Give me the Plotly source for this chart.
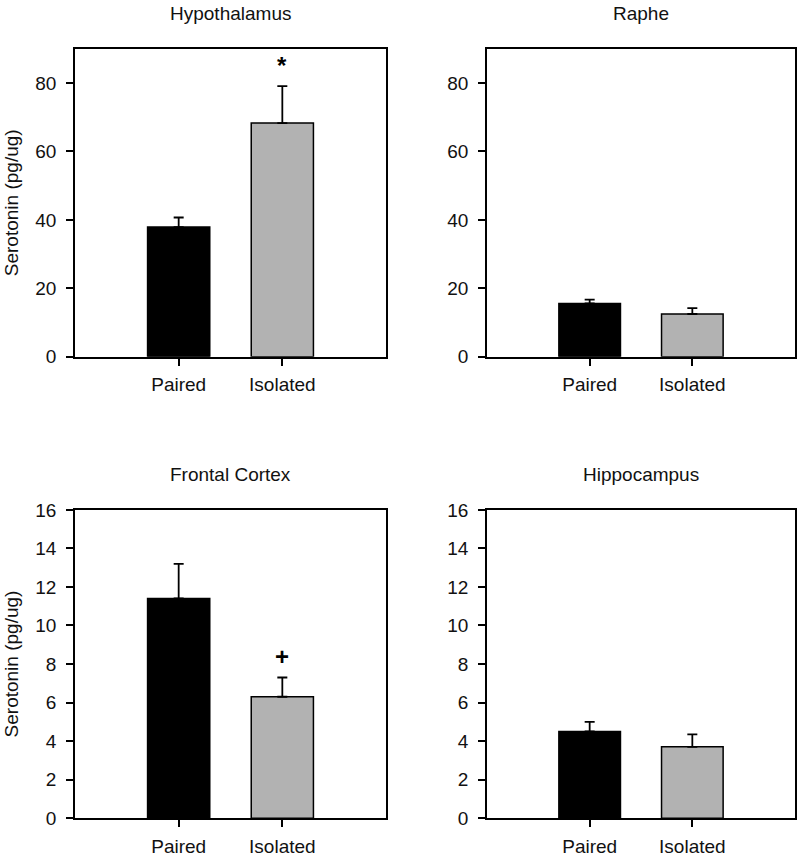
import plotly.graph_objects as go

categories = ["Paired", "Isolated"]
regions = ["Hypothalamus", "Raphe", "Frontal Cortex", "Hippocampus"]
means = {
    "Hypothalamus": [37.9, 68.3],
    "Raphe": [15.6, 12.5],
    "Frontal Cortex": [11.4, 6.3],
    "Hippocampus": [4.5, 3.7],
}
sem = {
    "Hypothalamus": [2.8, 10.8],
    "Raphe": [1.1, 1.7],
    "Frontal Cortex": [1.8, 1.0],
    "Hippocampus": [0.5, 0.65],
}
yranges = {"Hypothalamus": [0, 90], "Raphe": [0, 90], "Frontal Cortex": [0, 16], "Hippocampus": [0, 16]}
ydticks = {"Hypothalamus": 20, "Raphe": 20, "Frontal Cortex": 2, "Hippocampus": 2}
# significance markers: (region, category, y, symbol)
markers = [("Hypothalamus", "Isolated", 85.0, "*"), ("Frontal Cortex", "Isolated", 8.4, "+")]
bar_colors = ["#000000", "#b2b2b2"]
ytitle = "Serotonin (pg/ug)"

W, H = 800, 857
xdoms = [[75 / W, 386 / W], [487 / W, 795 / W]]
ydoms = [[1 - 358 / H, 1 - 49 / H], [1 - 821 / H, 1 - 511.7 / H]]
title_y = [1 - 14 / H, 1 - 476 / H]

FONT = "Liberation Sans, Arial, sans-serif"
fig = go.Figure()
layout = dict(
    width=W, height=H, margin=dict(l=0, r=0, t=0, b=0),
    plot_bgcolor="white", paper_bgcolor="white", showlegend=False,
    font=dict(family=FONT, size=19, color="#111111"),
    annotations=[],
)

for i, reg in enumerate(regions):
    row, col = divmod(i, 2)
    n = i + 1
    xa = "x" if n == 1 else f"x{n}"
    ya = "y" if n == 1 else f"y{n}"
    fig.add_trace(go.Bar(
        x=categories, y=means[reg], xaxis=xa, yaxis=ya, width=0.6,
        marker=dict(color=bar_colors, line=dict(color="#000000", width=1.5)),
        error_y=dict(type="data", array=sem[reg], arrayminus=[0, 0], symmetric=False,
                     color="#000000", thickness=1.8, width=5),
    ))
    xkey = "xaxis" if n == 1 else f"xaxis{n}"
    ykey = "yaxis" if n == 1 else f"yaxis{n}"
    layout[xkey] = dict(
        domain=xdoms[col], anchor=ya, type="category", categoryorder="array",
        categoryarray=categories, range=[-1, 2], showline=True, mirror=True,
        linecolor="#000000", linewidth=1.6, ticks="outside", ticklen=7, tickwidth=1.6,
        tickcolor="#000000", showgrid=False, tickfont=dict(size=19, color="#111111"),
        ticklabelstandoff=3, fixedrange=True,
    )
    ykw = dict(
        domain=ydoms[row], anchor=xa, range=yranges[reg], dtick=ydticks[reg], tick0=0,
        showline=True, mirror=True, linecolor="#000000", linewidth=1.6, ticks="outside",
        ticklen=7, tickwidth=1.6, tickcolor="#000000", showgrid=False, zeroline=False,
        tickfont=dict(size=19, color="#111111"), ticklabelstandoff=6, automargin=False,
    )
    if col == 0:
        ykw["title"] = dict(text=ytitle, font=dict(size=19, color="#111111"), standoff=12)
    layout[ykey] = ykw
    # panel title
    layout["annotations"].append(dict(
        text=reg, xref="paper", yref="paper",
        x=(xdoms[col][0] + xdoms[col][1]) / 2, y=title_y[row],
        xanchor="center", yanchor="middle", showarrow=False,
        font=dict(size=19, color="#111111"),
    ))

for reg, cat, yv, sym in markers:
    n = regions.index(reg) + 1
    xa = "x" if n == 1 else f"x{n}"
    ya = "y" if n == 1 else f"y{n}"
    layout["annotations"].append(dict(
        text=f"<b>{sym}</b>", xref=xa, yref=ya, x=cat, y=yv, showarrow=False,
        xanchor="center", yanchor="middle", font=dict(size=24, color="#000000"),
    ))

fig.update_layout(**layout)
fig.write_html("out.html", config={"displayModeBar": False},
               post_script="document.body.style.margin='0px';")
